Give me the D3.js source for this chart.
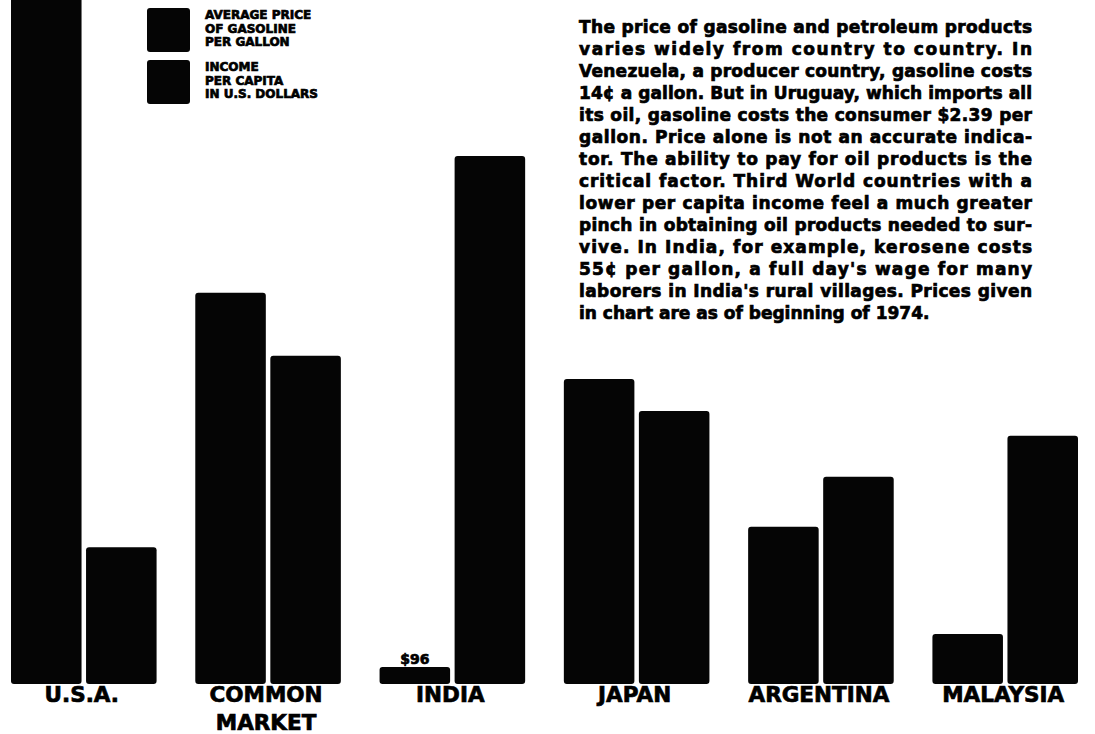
<!DOCTYPE html>
<html>
<head>
<meta charset="utf-8">
<script src="https://cdn.jsdelivr.net/npm/d3@7/dist/d3.min.js"></script>
<style>
  html, body { margin: 0; padding: 0; background: #fff; }
  svg { display: block; }
  text { font-family: "DejaVu Sans", Roboto, sans-serif; font-weight: bold; fill: #000; stroke: #000; stroke-width: 0.7px; }
</style>
</head>
<body>
<svg id="chart" width="1095" height="734"></svg>
<script>
// ---- data (relative bar heights, 0-100 = baseline to top of chart) ----
const countries = ["U.S.A.", "COMMON MARKET", "INDIA", "JAPAN", "ARGENTINA", "MALAYSIA"];
const gasolinePrice = [112, 57.2, 2.5, 44.6, 23.0, 7.3];
const incomePerCapita = [20.0, 48.0, 77.2, 39.9, 30.3, 36.3];
const seriesNames = ["AVERAGE PRICE OF GASOLINE PER GALLON", "INCOME PER CAPITA IN U.S. DOLLARS"];
const legendLines = [["AVERAGE PRICE", "OF GASOLINE", "PER GALLON"], ["INCOME", "PER CAPITA", "IN U.S. DOLLARS"]];
const barLabels = [null, null, "$96", null, null, null]; // label over India's short bar
const paragraph = [
  "The price of gasoline and petroleum products",
  "varies widely from country to country. In",
  "Venezuela, a producer country, gasoline costs",
  "14\u00a2 a gallon. But in Uruguay, which imports all",
  "its oil, gasoline costs the consumer $2.39 per",
  "gallon. Price alone is not an accurate indica-",
  "tor. The ability to pay for oil products is the",
  "critical factor. Third World countries with a",
  "lower per capita income feel a much greater",
  "pinch in obtaining oil products needed to sur-",
  "vive. In India, for example, kerosene costs",
  "55\u00a2 per gallon, a full day's wage for many",
  "laborers in India's rural villages. Prices given",
  "in chart are as of beginning of 1974."
];

const svg = d3.select("#chart");
const baseline = 684;

const x0 = d3.scaleBand().domain(countries).range([11, 1078]).paddingInner(0.21).paddingOuter(0);
const x1 = d3.scaleBand().domain([0, 1]).range([0, x0.bandwidth()]).paddingInner(0.06);
const y = d3.scaleLinear().domain([0, 100]).range([baseline, 0]);

const rows = countries.map((c, i) => ({ c, vals: [gasolinePrice[i], incomePerCapita[i]], label: barLabels[i] }));

const g = svg.append("g");
const grp = g.selectAll("g.country").data(rows).join("g")
  .attr("class", "country")
  .attr("transform", d => `translate(${x0(d.c)},0)`);

grp.selectAll("rect").data(d => d.vals.map((v, k) => ({ v, k }))).join("rect")
  .attr("x", d => x1(d.k))
  .attr("width", x1.bandwidth())
  .attr("y", d => y(d.v))
  .attr("height", d => y(0) - y(d.v))
  .attr("rx", 3)
  .attr("fill", "#050505");

// small value label over India's short bar
grp.filter(d => d.label).append("text")
  .attr("x", x1(0) + x1.bandwidth() / 2)
  .attr("y", d => y(d.vals[0]) - 3)
  .attr("text-anchor", "middle")
  .attr("font-size", 14)
  .text(d => d.label);

// category labels
const labelG = svg.append("g");
rows.forEach(d => {
  const cx = x0(d.c) + x0.bandwidth() / 2 - 2;
  const words = d.c === "COMMON MARKET" ? ["COMMON", "MARKET"] : [d.c];
  words.forEach((w, j) => {
    labelG.append("text")
      .attr("x", cx)
      .attr("y", 702 + j * 28)
      .attr("text-anchor", "middle")
      .attr("font-size", 21.5)
      .attr("stroke-width", 1.2)
      .text(w);
  });
});

// legend
const legend = svg.append("g");
legendLines.forEach((lines, i) => {
  const top = 8 + i * 52;
  legend.append("rect").attr("x", 147).attr("y", top).attr("width", 43).attr("height", 44).attr("rx", 3).attr("fill", "#050505");
  lines.forEach((t, j) => {
    legend.append("text").attr("x", 205).attr("y", top + 11 + j * 13.5)
      .attr("font-size", 12).text(t);
  });
});

// explanatory paragraph (justified)
const para = svg.append("g");
paragraph.forEach((t, i) => {
  const tx = para.append("text")
    .attr("x", 579)
    .attr("y", 33 + i * 22)
    .attr("font-size", 17)
    .text(t);
  if (i < paragraph.length - 1) {
    tx.attr("textLength", 453).attr("lengthAdjust", "spacing");
  }
});
</script>
</body>
</html>
